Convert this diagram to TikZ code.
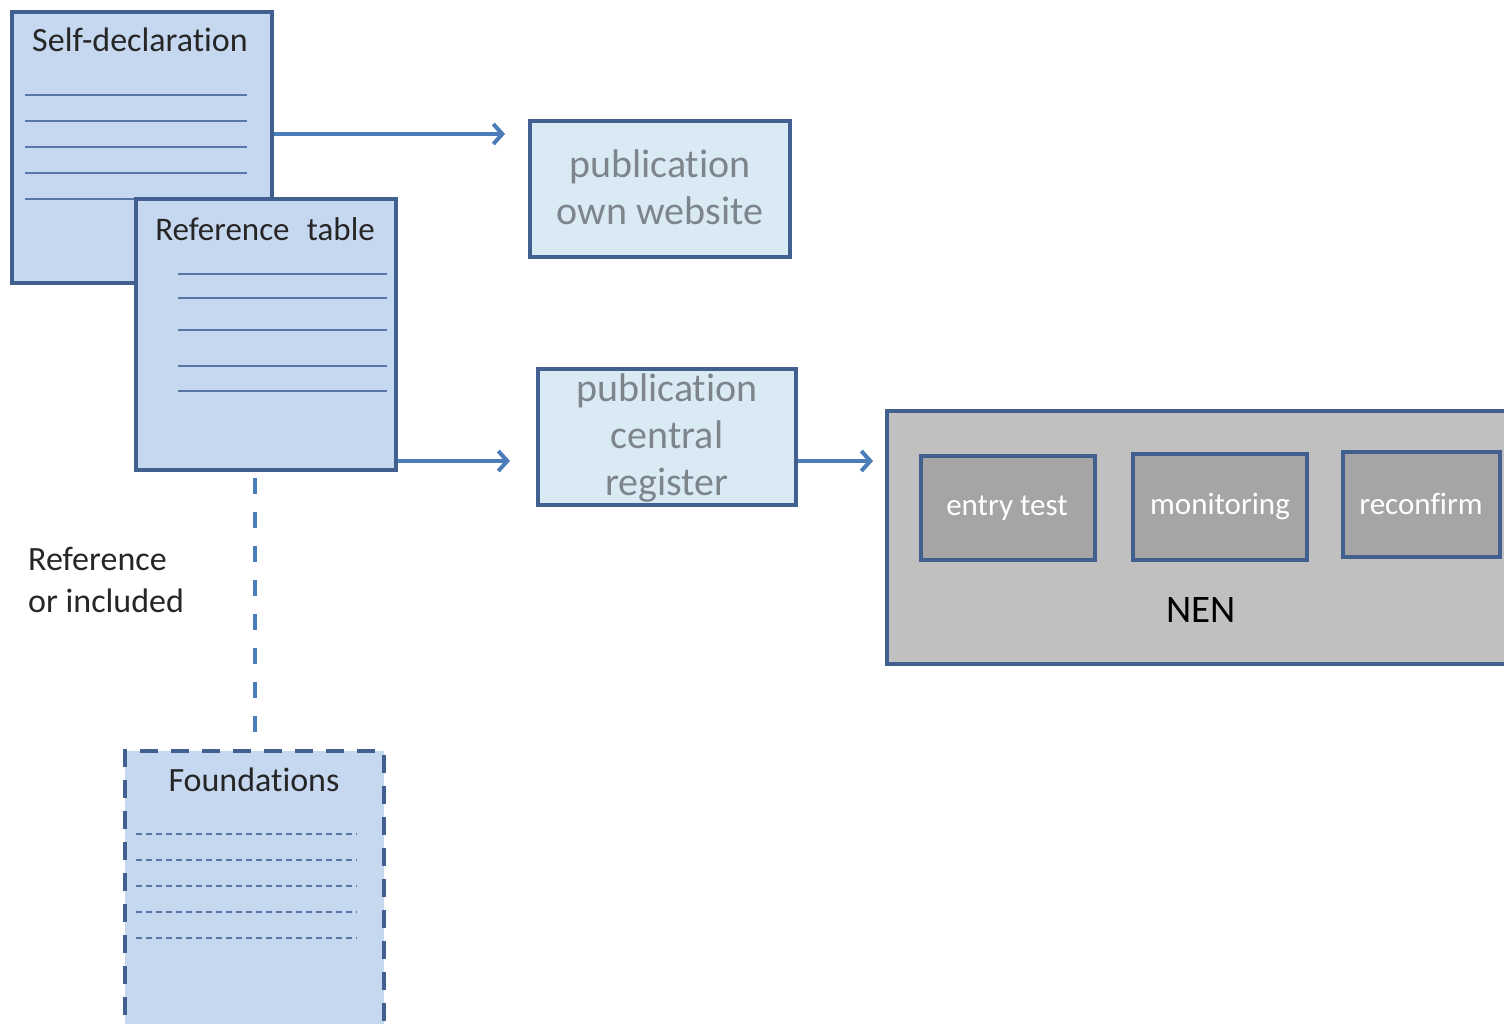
\documentclass[tikz,border=0pt]{standalone}
\usepackage{fontspec}
\setmainfont[Ligatures=NoCommon]{Carlito}
\usetikzlibrary{arrows.meta}
\definecolor{bord}{HTML}{41608F}
\definecolor{docfill}{HTML}{C5D8F0}
\definecolor{pubfill}{HTML}{DAEAF5}
\definecolor{arrowc}{HTML}{4A7DBA}
\definecolor{rulec}{HTML}{5876A6}
\definecolor{pubtext}{HTML}{7D858C}
\definecolor{nenfill}{HTML}{C0C0C0}
\definecolor{subfill}{HTML}{A5A5A5}
\tikzset{
  docbox/.style={draw=bord, line width=3.5pt, fill=docfill, rectangle, inner sep=0pt},
  pubbox/.style={draw=bord, line width=3.5pt, fill=pubfill, rectangle, inner sep=0pt},
  subbox/.style={draw=bord, line width=4pt, fill=subfill, rectangle, inner sep=0pt},
  doctitle/.style={font=\fontsize{34}{40}\selectfont, text=black!85, inner sep=0pt},
  pubtxt/.style={font=\fontsize{40}{47}\selectfont, text=pubtext, align=center, inner sep=0pt},
  subtxt/.style={font=\fontsize{31}{36}\selectfont, text=white, inner sep=0pt},
  docrule/.style={draw=rulec, line width=1.5pt},
  flow/.style={draw=arrowc, line width=3.5pt, -{Straight Barb[length=9pt,width=20pt,line width=4pt]}},
}
\begin{document}
\begin{tikzpicture}[x=1pt,y=-1pt]
\useasboundingbox (0,0) rectangle (1504,1023);
\clip (0,0) rectangle (1504,1023);
\fill[white] (0,0) rectangle (1504,1023);

% Self-declaration document
\node[docbox, minimum width=260pt, minimum height=271pt] (self) at (142,147.5) {};
\node[doctitle] (selft) at (140,40) {Self-declaration};
\foreach \yy in {95,121,147,173,199} \draw[docrule] (25,\yy) -- (247,\yy);

% Reference table document
\node[docbox, minimum width=260pt, minimum height=271pt] (reft) at (266,334.5) {};
\node[doctitle, font=\fontsize{33}{40}\selectfont] (reftt) at (265,229) {Reference\hspace{0.3em} table};
\foreach \yy in {274,298,330,366,391} \draw[docrule] (178,\yy) -- (387,\yy);

% publication boxes
\node[pubbox, minimum width=260pt, minimum height=136pt] (own) at (660,189) {};
\node[pubtxt] (ownt) at (660,187) {publication\\own website};
\node[pubbox, minimum width=258pt, minimum height=136pt] (central) at (667,437) {};
\node[pubtxt] (centralt) at (667,438) {publication\\central\\register};

% NEN
\node[draw=bord, line width=3.5pt, fill=nenfill, rectangle, inner sep=0pt, minimum width=640pt, minimum height=253pt] (nen) at (1207,537.5) {};
\node[subbox, minimum width=174pt, minimum height=104pt] (entry) at (1008,508) {};
\node[subtxt] (entryt) at (1007,508) {entry test};
\node[subbox, minimum width=174pt, minimum height=106pt] (mon) at (1220,507) {};
\node[subtxt] (mont) at (1220,506) {monitoring};
\node[subbox, minimum width=157pt, minimum height=105pt] (rec) at (1421.5,504.5) {};
\node[subtxt] (rect) at (1421,504) {reconfirm};
\node[font=\fontsize{39}{44}\selectfont, text=black, inner sep=0pt] (nent) at (1201,610) {NEN};

% Foundations
\node[docbox, dash pattern=on 18pt off 13pt, line width=4.5pt, minimum width=259pt, minimum height=290pt] (found) at (254.5,896) {};
\node[doctitle] (foundt) at (254,780) {Foundations};
\foreach \yy in {834,860,886,912,938} \draw[docrule, line width=1.2pt, dash pattern=on 6pt off 4pt] (136,\yy) -- (357,\yy);

% Label
\node[font=\fontsize{34}{42}\selectfont, text=black!85, align=left, anchor=north west, inner sep=0pt] (lbl) at (28,547) {Reference\\or included};

% connectors
\draw[flow] (self.east |- 0,134) -- (505,134);
\draw[flow] (reft.east |- 0,461) -- (510,461);
\draw[flow] (central.east |- 0,461) -- (873,461);
\draw[draw=arrowc, line width=3.5pt, dash pattern=on 16pt off 18pt] (255,478) -- (found.north -| 255,0);
\end{tikzpicture}
\end{document}
